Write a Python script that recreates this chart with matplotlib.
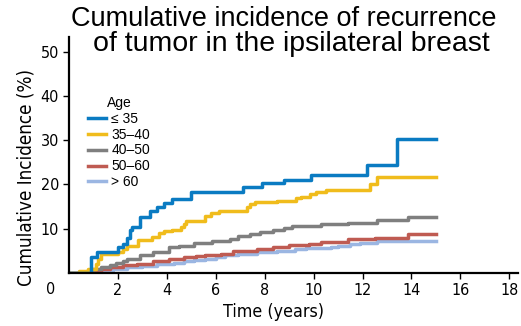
import matplotlib

matplotlib.use("Agg")
import matplotlib.pyplot as plt

# step curves (time in years, cumulative incidence in %)
age_labels = ["\u2264 35", "35\u201340", "40\u201350", "50\u201360", "> 60"]
colors = ["#0a7bc2", "#f0bc1c", "#7f7f7f", "#bf5b52", "#9bb6e2"]

t_le35 = [0, 0.9, 1.15, 2.0, 2.2, 2.4, 2.5, 2.6, 2.9, 3.3, 3.6, 3.9, 4.2, 5.0, 7.1, 7.9, 8.8, 9.9, 12.2, 13.4, 15.0]
v_le35 = [0, 3.5, 4.8, 5.9, 6.5, 8.0, 9.7, 10.4, 12.6, 14.1, 15.0, 15.9, 16.7, 18.3, 19.5, 20.3, 21.1, 22.1, 24.4, 30.2, 30.2]

t_35_40 = [0, 0.4, 0.8, 1.1, 1.2, 1.3, 2.0, 2.2, 2.4, 2.85, 3.4, 3.7, 3.9, 4.2, 4.6, 4.7, 4.8, 5.55, 5.8, 6.15,
           7.27, 7.4, 7.6, 8.5, 9.3, 9.5, 9.85, 10.1, 10.5, 12.3, 12.6, 15.0]
v_35_40 = [0, 0.5, 0.8, 2.0, 3.2, 4.2, 4.8, 5.4, 6.1, 7.4, 8.1, 9.0, 9.5, 9.8, 10.4, 11.0, 11.7, 12.8, 13.5, 14.1,
           15.0, 15.6, 16.0, 16.3, 16.9, 17.2, 17.8, 18.4, 18.7, 20.1, 21.6, 21.6]

t_40_50 = [0, 0.5, 1.0, 1.3, 1.7, 1.95, 2.2, 2.4, 2.9, 3.45, 4.1, 4.5, 5.1, 5.85, 6.6, 6.9, 7.4, 7.8, 8.35, 8.8,
           9.1, 9.5, 10.3, 11.4, 12.6, 13.85, 15.0]
v_40_50 = [0, 0.3, 0.8, 1.4, 1.8, 2.3, 2.8, 3.2, 4.1, 4.8, 5.8, 6.2, 6.7, 7.3, 7.6, 8.4, 8.9, 9.3, 9.7, 10.1,
           10.5, 10.6, 11.0, 11.4, 11.9, 12.7, 12.7]

t_50_60 = [0, 0.8, 1.3, 1.7, 2.2, 2.8, 3.45, 4.1, 4.7, 5.2, 5.55, 6.2, 6.7, 7.7, 8.35, 9.0, 9.8, 10.3, 10.75,
           11.4, 12.5, 13.85, 15.0]
v_50_60 = [0, 0.3, 0.9, 1.4, 1.7, 2.0, 2.6, 3.1, 3.5, 3.8, 4.0, 4.4, 5.0, 5.5, 5.8, 6.3, 6.6, 6.9, 7.1,
           7.6, 7.9, 8.7, 8.7]

t_gt60 = [0, 0.9, 1.4, 1.8, 2.4, 3.0, 3.6, 4.3, 4.7, 5.1, 5.55, 6.0, 6.4, 6.9, 7.7, 8.5, 9.25, 9.7, 10.7, 11.0,
          11.5, 11.9, 12.6, 15.0]
v_gt60 = [0, 0.3, 0.7, 1.0, 1.3, 1.6, 2.0, 2.3, 2.6, 2.9, 3.2, 3.7, 4.1, 4.4, 4.7, 5.0, 5.4, 5.7, 5.9, 6.2,
          6.5, 6.7, 7.2, 7.2]

x_ticks = [2, 4, 6, 8, 10, 12, 14, 16, 18]
y_ticks = [10, 20, 30, 40, 50]

series = [(t_le35, v_le35), (t_35_40, v_35_40), (t_40_50, v_40_50), (t_50_60, v_50_60), (t_gt60, v_gt60)]

narrow = dict(family="DejaVu Sans", stretch="condensed")
plain = ["Liberation Sans", "DejaVu Sans"]

fig = plt.figure(figsize=(5.21, 3.26), dpi=100)
ax = fig.add_axes([0.1319, 0.1626, 0.8623, 0.724])

handles = [None] * len(series)
for i in reversed(range(len(series))):
    t, v = series[i]
    (handles[i],) = ax.step(t, v, where="post", color=colors[i], lw=2.5, label=age_labels[i])

ax.set_xlim(0, 18.35)
ax.set_ylim(0, 53.3)
ax.set_xticks(x_ticks)
ax.set_yticks(y_ticks)
for s in ["top", "right"]:
    ax.spines[s].set_visible(False)
for s in ["left", "bottom"]:
    ax.spines[s].set_linewidth(1.6)
ax.tick_params(length=4, width=1.0, labelsize=11.5, pad=3)
for lab in ax.get_xticklabels() + ax.get_yticklabels():
    lab.set_family(narrow["family"])
    lab.set_stretch(narrow["stretch"])

fig.text(51 / 521, 1 - 290 / 326, "0", ha="center", va="center", fontsize=11.5, **narrow)

ax.set_xlabel("Time (years)", fontsize=12.8, **narrow)
ax.xaxis.set_label_coords(0.455, -0.165)
ax.xaxis.label.set_va("center")
ax.set_ylabel("Cumulative Incidence (%)", fontsize=13.5, **narrow)
ax.yaxis.set_label_coords(-0.095, 0.405)
ax.yaxis.label.set_va("center")

leg = ax.legend(handles, age_labels, title="Age", loc="upper left", bbox_to_anchor=(0.03, 0.775),
                frameon=False, fontsize=10, title_fontsize=10, handlelength=1.3, handletextpad=0.4,
                labelspacing=0.14, borderaxespad=0)
for txt in leg.get_texts() + [leg.get_title()]:
    txt.set_family(plain)

fig.text(284 / 521, 1 - 6 / 326, "Cumulative incidence of recurrence",
         ha="center", va="top", fontsize=19.5, family=plain)
fig.text(291 / 521, 1 - 31 / 326, "of tumor in the ipsilateral breast",
         ha="center", va="top", fontsize=20.5, family=plain)

fig.savefig("out.png", dpi=100)
